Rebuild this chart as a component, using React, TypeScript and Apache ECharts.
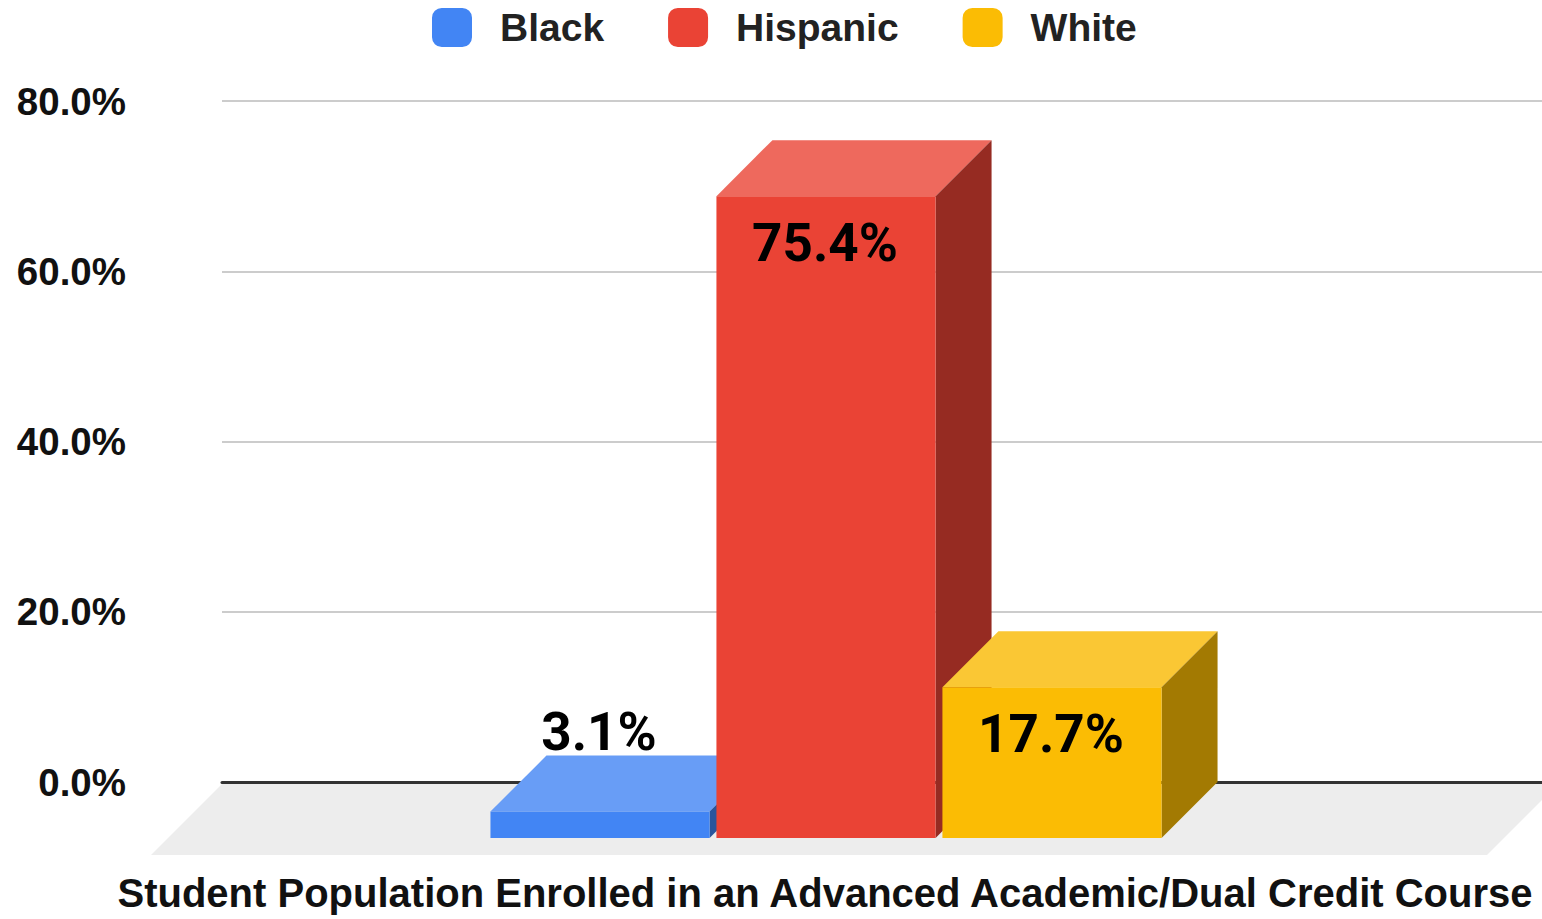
import { useEffect, useRef } from 'react';
import * as echarts from 'echarts';

const categories = ['Student Population Enrolled in an Advanced Academic/Dual Credit Course'];
const seriesNames = ['Black', 'Hispanic', 'White'];
const blackValues = [3.1];
const hispanicValues = [75.4];
const whiteValues = [17.7];
const yMin = 0;
const yMax = 80;
const yInterval = 20;

const valuesByName: Record<string, number[]> = {
  Black: blackValues,
  Hispanic: hispanicValues,
  White: whiteValues,
};

const palette: Record<string, { front: string; top: string; side: string }> = {
  Black: { front: '#4285F4', top: '#689DF6', side: '#2A559C' },
  Hispanic: { front: '#EA4335', top: '#EE695D', side: '#962B22' },
  White: { front: '#FBBC04', top: '#FAC734', side: '#A37A02' },
};

const DEPTH = 56;
const FLOOR_DEPTH = 73;

function makeBarRender(idx: number, colors: { front: string; top: string; side: string }) {
  return (params: any, api: any) => {
    const cat = api.value(0);
    const val = api.value(1);
    const base = api.coord([cat, 0]);
    const top = api.coord([cat, val]);
    const band = api.size([1, 0])[0];
    const step = band * 0.1712;
    const half = band * 0.083;
    const cx = base[0] + (idx - 1) * step;
    const x0 = cx - half;
    const x1 = cx + half;
    const yt = top[1];
    const yb = base[1];
    const d = DEPTH;
    const inside = yb - yt > 90;
    const label = `${Number(val).toFixed(1)}%`;
    return {
      type: 'group',
      children: [
        {
          type: 'polygon',
          shape: { points: [[x0, yt], [x1, yt], [x1 - d, yt + d], [x0 - d, yt + d]] },
          style: { fill: colors.top },
        },
        {
          type: 'polygon',
          shape: { points: [[x1, yt], [x1, yb], [x1 - d, yb + d], [x1 - d, yt + d]] },
          style: { fill: colors.side },
        },
        {
          type: 'rect',
          shape: { x: x0 - d, y: yt + d, width: x1 - x0, height: yb - yt },
          style: { fill: colors.front },
        },
        {
          type: 'text',
          x: cx - d - 1,
          y: inside ? yt + d + 47 : yt - 24,
          style: {
            text: label,
            fill: '#000000',
            font: 'bold 53px Roboto',
            align: 'center',
            verticalAlign: 'middle',
            textAlign: 'center',
            textVerticalAlign: 'middle',
          },
        },
      ],
    };
  };
}

function floorRender(params: any, api: any) {
  const cs = params.coordSys;
  const yTop = cs.y + cs.height + 2;
  const yBot = cs.y + cs.height + FLOOR_DEPTH;
  const xl = cs.x;
  const xr = cs.x + cs.width + 16;
  return {
    type: 'polygon',
    shape: {
      points: [
        [xl, yTop],
        [xr, yTop],
        [xr - (yBot - yTop), yBot],
        [xl - (yBot - yTop), yBot],
      ],
    },
    style: { fill: '#EDEDED' },
  };
}

export default function App() {
  const ref = useRef<HTMLDivElement>(null);
  useEffect(() => {
    if (!ref.current) return;
    const chart = echarts.init(ref.current, undefined, { renderer: 'svg' });
    const barSeries = seriesNames.map((name, idx) => ({
      name,
      type: 'custom',
      z: 3,
      itemStyle: { color: palette[name].front },
      renderItem: makeBarRender(idx, palette[name]),
      data: valuesByName[name].map((v, i) => [i, v]),
      encode: { x: 0, y: 1 },
      clip: false,
    }));
    chart.setOption({
      animation: false,
      backgroundColor: '#ffffff',
      legend: {
        data: seriesNames,
        top: 8,
        left: 432,
        padding: 0,
        itemWidth: 40,
        itemHeight: 39,
        itemGap: 64,
        icon: 'roundRect',
        textStyle: {
          fontFamily: 'Liberation Sans, Arial, sans-serif',
          fontWeight: 'bold',
          fontSize: 39,
          color: '#222222',
          padding: [0, 0, 0, 23],
        },
      },
      grid: { left: 222, right: 0, top: 101, bottom: 137, containLabel: false },
      xAxis: {
        type: 'category',
        data: categories,
        name: categories[0],
        nameLocation: 'middle',
        nameGap: 91,
        nameTextStyle: {
          fontFamily: 'Liberation Sans, Arial, sans-serif',
          fontWeight: 'bold',
          fontSize: 40,
          color: '#111111',
          padding: [0, 114, 0, 0],
        },
        axisLabel: { show: false },
        axisTick: { show: false },
        axisLine: { show: true, lineStyle: { color: '#333333', width: 3 } },
        splitLine: { show: false },
      },
      yAxis: {
        type: 'value',
        min: yMin,
        max: yMax,
        interval: yInterval,
        axisLabel: {
          formatter: (v: number) => `${v.toFixed(1)}%`,
          fontFamily: 'Liberation Sans, Arial, sans-serif',
          fontWeight: 'bold',
          fontSize: 38.5,
          color: '#111111',
          margin: 96,
        },
        axisLine: { show: false },
        axisTick: { show: false },
        splitLine: { lineStyle: { color: '#CCCCCC', width: 2 } },
      },
      series: [
        {
          name: 'floor',
          type: 'custom',
          z: 1,
          silent: true,
          renderItem: floorRender,
          data: [[0, 0]],
          encode: { x: 0, y: 1 },
          clip: false,
        },
        ...barSeries,
      ],
    });
    return () => chart.dispose();
  }, []);
  return <div ref={ref} style={{ width: 1542, height: 919, position: 'absolute', left: 0, top: 0 }} />;
}
